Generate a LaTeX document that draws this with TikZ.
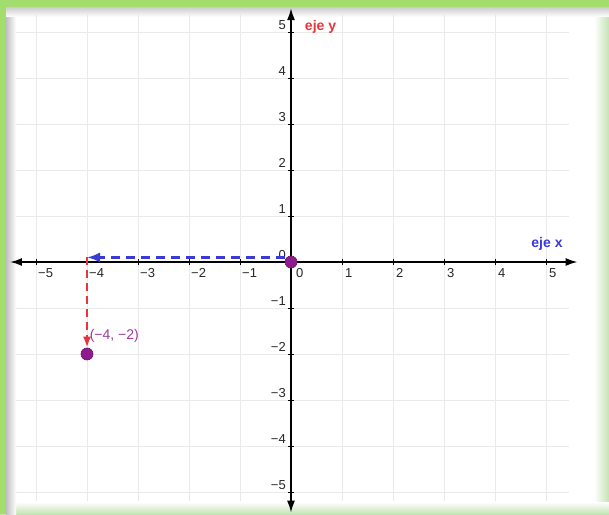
\documentclass[tikz,border=0pt]{standalone}
\usepackage{fontspec}
\setmainfont{Liberation Sans}
\usetikzlibrary{arrows.meta}
\definecolor{framegreen}{HTML}{A3DD6E}
\definecolor{palegreen}{HTML}{C4E3B4}
\definecolor{gridgray}{HTML}{EAEAEA}
\definecolor{dotpurple}{HTML}{8E1C8E}
\definecolor{lblpurple}{HTML}{9A3A9A}
\definecolor{ejered}{HTML}{E8343C}
\definecolor{ejeblue}{HTML}{3A3AD6}
\definecolor{numgray}{HTML}{262626}
\tikzset{
  gridline/.style={draw=gridgray, line width=0.9pt},
  axisline/.style={draw=black, line width=1.8pt, {Latex[length=12pt,width=8pt]}-{Latex[length=12pt,width=8pt]}},
  tickmark/.style={draw=black, line width=0.8pt},
  xlbl/.style={font=\fontsize{13}{15}\selectfont, text=numgray, anchor=north west, inner sep=1pt, xshift=2pt, yshift=-5pt},
  ylbl/.style={font=\fontsize{13}{15}\selectfont, text=numgray, anchor=south east, inner sep=1pt, xshift=-4pt, yshift=1pt},
  dot/.style={circle, fill=dotpurple, draw=dotpurple!70!black, line width=0.6pt, minimum size=12pt, inner sep=0pt},
  bluearrow/.style={draw=ejeblue, line width=2.8pt, dash pattern=on 9pt off 6pt, -{Latex[length=13pt,width=10pt]}},
  redarrow/.style={draw=ejered, line width=2.8pt, dash pattern=on 8pt off 5pt, -{Latex[length=11pt,width=8pt]}},
  ejelbl/.style={font=\bfseries\fontsize{14}{16}\selectfont, inner sep=0pt},
}
\begin{document}
\begin{tikzpicture}[x=1pt,y=1pt]
\useasboundingbox (0,0) rectangle (609,514);
% background and frame
\fill[white] (0,0) rectangle (609,514);
\shade[left color=white, right color=palegreen] (594,0) rectangle (609,514);
\shade[top color=white, bottom color=palegreen] (0,0) rectangle (609,12);
\shade[left color=black!25, right color=white] (6,0) rectangle (16,507);
\shade[top color=black!20, bottom color=white] (6,497) rectangle (609,507);
\fill[framegreen] (0,507) rectangle (609,514);
\fill[framegreen] (0,0) rectangle (6,514);
\begin{scope}[shift={(291,252)}, x=51pt, y=46pt]
  % grid
  \foreach \i in {-5,...,5} {
    \draw[gridline] (\i,-5.2) -- (\i,5.42);
    \draw[gridline] (-5.4,\i) -- (5.45,\i);
  }
  % axes
  \coordinate (xl) at (-5.51,0);
  \coordinate (xr) at (5.62,0);
  \coordinate (yb) at (0,-5.45);
  \coordinate (yt) at (0,5.52);
  \draw[axisline] (xl) -- (xr);
  \draw[axisline] (yb) -- (yt);
  % ticks and labels
  \foreach \i in {1,...,5} {
    \draw[tickmark] (\i,-0.06) -- (\i,0.06);
    \draw[tickmark] (-\i,-0.06) -- (-\i,0.06);
    \draw[tickmark] (-0.06,\i) -- (0.06,\i);
    \draw[tickmark] (-0.06,-\i) -- (0.06,-\i);
    \node[xlbl] (xp\i) at (\i,0) {\i};
    \node[xlbl, xshift=-1pt] (xn\i) at (-\i,0) {−\i};
    \node[ylbl] (yp\i) at (0,\i) {\i};
    \node[ylbl] (yn\i) at (0,-\i) {−\i};
  }
  \node[xlbl, xshift=2pt] (x0) at (0,0) {0};
  \node[ylbl] (y0) at (0,0) {0};
  % axis names
  \node[ejelbl, text=ejered, anchor=west] (ejey) at (0.27,5.11) {eje y};
  \node[ejelbl, text=ejeblue] (ejex) at (5.02,0.40) {eje x};
  % points
  \node[dot] (O) at (0,0) {};
  \node[dot] (P) at (-4,-2) {};
  \node[font=\fontsize{14}{16}\selectfont, text=lblpurple, anchor=west, inner sep=0pt] (Plbl) at (-3.95,-1.61) {(−4, −2)};
  % path
  \coordinate (Bs) at (-0.12,0.1);
  \coordinate (Be) at (-4,0.1);
  \draw[redarrow] (Be) -- (P.north);
  \draw[bluearrow] (Bs) -- (Be);
\end{scope}
\end{tikzpicture}
\end{document}
